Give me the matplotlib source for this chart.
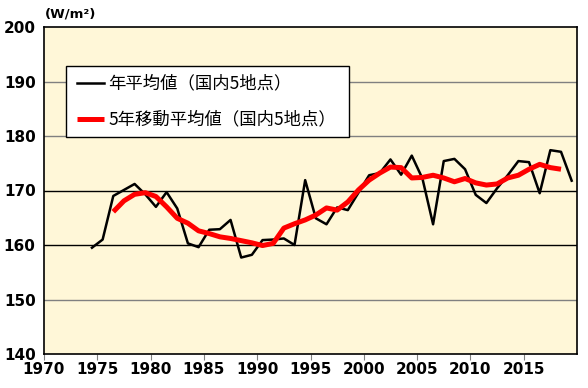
import matplotlib.pyplot as plt
from matplotlib.patches import Rectangle

plt.rcParams['font.family'] = ['Noto Sans CJK JP', 'DejaVu Sans']

# annual mean (5 domestic stations), 1974-2019
years = list(range(1974, 2020))
annual = [159.5, 161.0, 169.0, 170.1, 171.2, 169.3, 167.0, 169.7, 166.7, 160.3,
          159.6, 162.8, 162.9, 164.6, 157.7, 158.2, 160.9, 161.0, 161.2, 160.0,
          171.9, 164.9, 163.8, 166.9, 166.4, 169.6, 172.8, 173.2, 175.7, 172.9,
          176.4, 172.2, 163.8, 175.4, 175.8, 173.9, 169.2, 167.7, 170.4, 172.8,
          175.4, 175.2, 169.5, 177.4, 177.1, 171.8]

# 5-year moving average, 1976-2018
ma_years = list(range(1976, 2019))
moving_avg = [166.1, 168.1, 169.3, 169.6, 168.9, 167.0, 164.9, 164.0, 162.6, 162.1,
              161.5, 161.2, 160.8, 160.4, 159.9, 160.3, 163.1, 163.9, 164.6, 165.5,
              166.8, 166.4, 167.9, 170.1, 171.9, 173.2, 174.3, 174.2, 172.3, 172.4,
              172.8, 172.3, 171.6, 172.2, 171.4, 171.0, 171.2, 172.3, 172.8, 173.9,
              174.8, 174.2, 173.9]

labels = ['年平均値（国内5地点）', '5年移動平均値（国内5地点）']

fig = plt.figure(figsize=(5.88, 3.88), dpi=100)
ax = fig.add_axes([44 / 588, 34 / 388, 533 / 588, 327 / 388])
ax.set_facecolor('#fff7d8')

for v in [150, 180, 190]:
    ax.axhline(v, color='#808080', linewidth=1.0, zorder=1)
for v in [160, 170]:
    ax.axhline(v, color='black', linewidth=1.0, zorder=1)

ax.plot([y + 0.5 for y in years], annual, color='black', linewidth=1.8, zorder=3)
ax.plot([y + 0.5 for y in ma_years], moving_avg, color='#ff0000', linewidth=3.6,
        solid_capstyle='butt', zorder=4)

ax.set_xlim(1970, 2020)
ax.set_ylim(140, 200)
ax.set_xticks(range(1970, 2020, 5))
ax.set_yticks(range(140, 201, 10))

tick_font = ['Liberation Sans Narrow', 'DejaVu Sans']
for lbl in ax.get_xticklabels() + ax.get_yticklabels():
    lbl.set_family(tick_font)
    lbl.set_fontsize(11)
    lbl.set_weight('bold')
ax.tick_params(axis='x', direction='out', length=4, color='#808080', pad=2)
ax.tick_params(axis='y', length=0, pad=6)

for s in ax.spines.values():
    s.set_color('black')
    s.set_linewidth(1.2)

ax.text(0.002, 1.02, '(W/m²)', transform=ax.transAxes, fontsize=9.5,
        family=tick_font, weight='bold', ha='left', va='bottom')

# legend drawn by hand so the box matches the original
ax.add_patch(Rectangle((0.0407, 0.6645), 0.531, 0.2172, transform=ax.transAxes,
                       facecolor='white', edgecolor='black', linewidth=1.0, zorder=5))
ax.plot([0.0619, 0.1126], [0.8287, 0.8287], transform=ax.transAxes,
        color='black', linewidth=1.8, zorder=6)
ax.plot([0.0619, 0.1126], [0.7187, 0.7187], transform=ax.transAxes,
        color='#ff0000', linewidth=3.6, solid_capstyle='butt', zorder=6)
ax.text(0.1201, 0.8287, labels[0], transform=ax.transAxes, fontsize=12.5,
        va='center', ha='left', zorder=6)
ax.text(0.1201, 0.7187, labels[1], transform=ax.transAxes, fontsize=12.5,
        va='center', ha='left', zorder=6)

fig.savefig('out.png', dpi=100)
